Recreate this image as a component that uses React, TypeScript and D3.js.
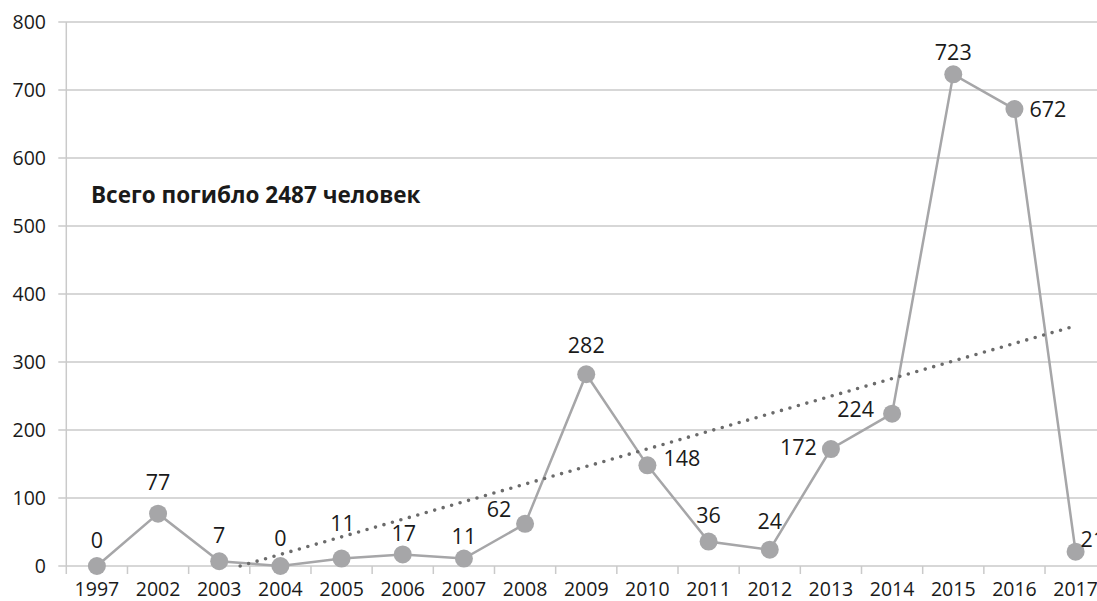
import React from "react";
import * as d3 from "d3";

const years = ["1997","2002","2003","2004","2005","2006","2007","2008","2009","2010","2011","2012","2013","2014","2015","2016","2017"];
const deaths = [0,77,7,0,11,17,11,62,282,148,36,24,172,224,723,672,21];
const yTicks = [0,100,200,300,400,500,600,700,800];
const title = "Всего погибло 2487 человек";

// label placement per point: [anchor, dx, dy]
const labelPlace: [string, number, number][] = [
  ["middle",0,-26],["middle",0,-31],["middle",0,-26],["middle",0,-28],
  ["middle",1,-35],["middle",1,-21],["middle",0,-22],["middle",-26,-15],
  ["middle",0,-29],["start",16,-7],["middle",0,-26],["middle",0,-28],
  ["end",-14,-2],["end",-18,-4],["middle",0,-22],["start",15,0],["start",5,-12],
];

const W = 1097, H = 601;
const left = 66.3, band = 61.17, top = 22, bottom = 566;
const font = "'Open Sans', 'Noto Sans', sans-serif";

export default function App() {
  const x = d3.scaleBand<string>().domain(years).range([left, left + band * years.length]).paddingInner(0).paddingOuter(0);
  const y = d3.scaleLinear().domain([0, 800]).range([bottom, top]);
  const bw = x.bandwidth();
  const cx = (i: number) => left + bw * (i + 0.5);

  // linear trendline (least squares over 1..n), clipped at 0
  const n = deaths.length;
  const xs = deaths.map((_, i) => i + 1);
  const mx = d3.mean(xs)!, my = d3.mean(deaths)!;
  const sxy = d3.sum(xs.map((xi, i) => (xi - mx) * (deaths[i] - my)));
  const sxx = d3.sum(xs.map(xi => (xi - mx) ** 2));
  const slope = sxy / sxx, icpt = my - slope * mx;
  const x0 = Math.max(1, -icpt / slope);
  const trendPts: [number, number][] = [[x0, Math.max(0, icpt + slope * x0)], [n, icpt + slope * n]];
  const trendLine = d3.line<[number, number]>().x(d => cx(d[0] - 1)).y(d => y(d[1]));

  const line = d3.line<number>().x((_, i) => cx(i)).y(d => y(d));
  const gridColor = "#cacaca";
  const seriesColor = "#a6a6a8";

  return (
    <svg width={W} height={H} style={{ position: "absolute", left: 0, top: 0, background: "#fff" }} fontFamily={font}>
      {yTicks.map(t => (
        <line key={t} x1={left - 8} x2={W + 20} y1={y(t)} y2={y(t)} stroke={gridColor} strokeWidth={1.5} />
      ))}
      <line x1={left} x2={left} y1={top} y2={bottom} stroke={gridColor} strokeWidth={1.5} />
      {d3.range(years.length + 1).map(i => (
        <line key={i} x1={left + i * bw} x2={left + i * bw} y1={bottom} y2={bottom + 8} stroke={gridColor} strokeWidth={1.5} />
      ))}
      {yTicks.map(t => (
        <text key={t} x={46} y={y(t)} dy="0.36em" textAnchor="end" fontSize={19.5} fill="#1a1a1a">{t}</text>
      ))}
      {years.map((yr, i) => (
        <text key={yr} x={cx(i)} y={596} textAnchor="middle" fontSize={19.5} fill="#1a1a1a">{yr}</text>
      ))}
      <path d={line(deaths)!} fill="none" stroke={seriesColor} strokeWidth={2.5} />
      <path d={trendLine(trendPts)!} fill="none" stroke="#6b6b6b" strokeWidth={3.6} strokeLinecap="round" strokeDasharray="0 8.8" />
      {deaths.map((v, i) => (
        <circle key={i} cx={cx(i)} cy={y(v)} r={9} fill={seriesColor} />
      ))}
      {deaths.map((v, i) => {
        const [anchor, dx, dy] = labelPlace[i];
        return (
          <text key={i} x={cx(i) + dx} y={y(v) + dy} dy="0.36em" textAnchor={anchor as any} fontSize={21.5} fill="#1a1a1a">{v}</text>
        );
      })}
      <text x={91} y={195} dy="0.36em" fontSize={22.5} fontWeight="bold" fill="#1a1a1a">{title}</text>
    </svg>
  );
}
